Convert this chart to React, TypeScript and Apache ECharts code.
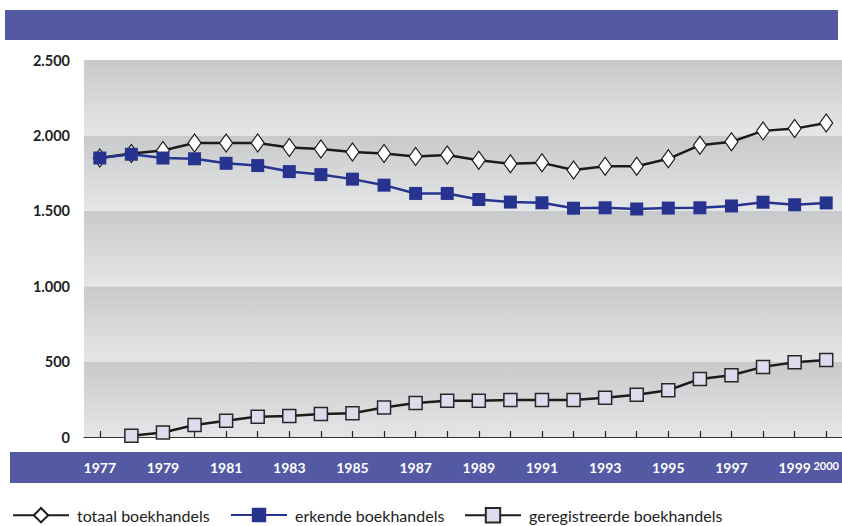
import React, { useEffect, useRef } from "react";
import * as echarts from "echarts";

const years = ["1977","1978","1979","1980","1981","1982","1983","1984","1985","1986","1987","1988","1989","1990","1991","1992","1993","1994","1995","1996","1997","1998","1999","2000"];
const totaal = [1850,1880,1900,1950,1950,1950,1920,1910,1890,1880,1860,1870,1835,1812,1818,1770,1795,1795,1845,1935,1958,2030,2045,2082];
const erkende = [1850,1875,1850,1845,1815,1800,1760,1740,1710,1670,1615,1615,1575,1558,1553,1517,1520,1512,1518,1520,1532,1557,1540,1552];
const geregistreerde: (number | null)[] = [null,8,30,80,108,135,140,152,158,195,225,240,240,245,245,245,260,280,310,385,410,465,495,510];
const yTicks = [0, 500, 1000, 1500, 2000, 2500];

const BAND = "#5359a3";
const BLUE = "#27348f";
const FONT = "Lato";

function fmt(v: number) {
  return String(v).replace(/\B(?=(\d{3})+(?!\d))/g, ".");
}

export default function App() {
  const ref = useRef<HTMLDivElement>(null);
  useEffect(() => {
    if (!ref.current) return;
    const chart = echarts.init(ref.current, undefined, { renderer: "svg" });
    const bandGrad = new echarts.graphic.LinearGradient(0, 0, 0, 1, [
      { offset: 0, color: "#c8c9cb" },
      { offset: 1, color: "#e5e6e8" },
    ]);
    const legendBase = {
      itemWidth: 56,
      itemHeight: 18,
      textStyle: { fontFamily: FONT, fontSize: 16, color: "#222", padding: [0, 0, 0, 3] },
      top: 507,
      padding: 0,
    };
    chart.setOption({
      animation: false,
      backgroundColor: "#ffffff",
      graphic: [
        { type: "rect", z: -10, shape: { x: 5, y: 10, width: 833, height: 30 }, style: { fill: BAND } },
        { type: "rect", z: -10, shape: { x: 10, y: 452, width: 832, height: 31 }, style: { fill: BAND } },
      ],
      grid: { left: 84, right: 0, top: 60, bottom: 89 },
      legend: [
        { ...legendBase, left: 12, data: ["totaal boekhandels"] },
        { ...legendBase, left: 230, data: ["erkende boekhandels"] },
        { ...legendBase, left: 464, data: ["geregistreerde boekhandels"] },
      ],
      xAxis: {
        type: "category",
        data: years,
        boundaryGap: true,
        z: 2,
        axisLine: { show: true, lineStyle: { color: "#333", width: 1 } },
        axisTick: { show: true, alignWithLabel: true, interval: 0, inside: true, length: 6, lineStyle: { color: "#222", width: 1.2 } },
        axisLabel: {
          interval: (i: number) => i % 2 === 0 || i === 23,
          margin: 23,
          color: "#fff",
          fontFamily: FONT,
          fontWeight: "bold",
          fontSize: 14,
          formatter: (v: string) => (v === "2000" ? "{s|" + v + "}" : v),
          rich: { s: { fontSize: 11, fontWeight: "bold", color: "#fff", fontFamily: FONT, padding: [0, 0, 4, 0] } },
        },
      },
      yAxis: {
        type: "value",
        min: yTicks[0],
        max: yTicks[yTicks.length - 1],
        interval: 500,
        z: 0,
        axisLine: { show: false },
        axisTick: { show: false },
        splitLine: { show: false },
        splitArea: { show: true, areaStyle: { color: [bandGrad, bandGrad] } },
        axisLabel: {
          margin: 14,
          color: "#222",
          fontFamily: FONT,
          fontWeight: "bold",
          fontSize: 14.5,
          formatter: (v: number) => fmt(v),
        },
      },
      series: [
        {
          name: "geregistreerde boekhandels",
          type: "line",
          data: geregistreerde,
          symbol: "rect",
          symbolSize: 13,
          lineStyle: { color: "#1e1a1a", width: 2.5 },
          itemStyle: { color: "#dcdcee", borderColor: "#2a2626", borderWidth: 1.5 },
          z: 3,
        },
        {
          name: "erkende boekhandels",
          type: "line",
          data: erkende,
          symbol: "rect",
          symbolSize: 13,
          lineStyle: { color: BLUE, width: 2.5 },
          itemStyle: { color: BLUE, borderColor: BLUE, borderWidth: 0 },
          z: 4,
        },
        {
          name: "totaal boekhandels",
          type: "line",
          data: totaal,
          symbol: "diamond",
          symbolSize: [13, 18],
          lineStyle: { color: "#1e1a1a", width: 2.5 },
          itemStyle: { color: "#ffffff", borderColor: "#1e1a1a", borderWidth: 1.2 },
          z: 3,
        },
      ],
    });
    return () => chart.dispose();
  }, []);
  return <div ref={ref} style={{ position: "fixed", left: 0, top: 0, width: 842, height: 526 }} />;
}
